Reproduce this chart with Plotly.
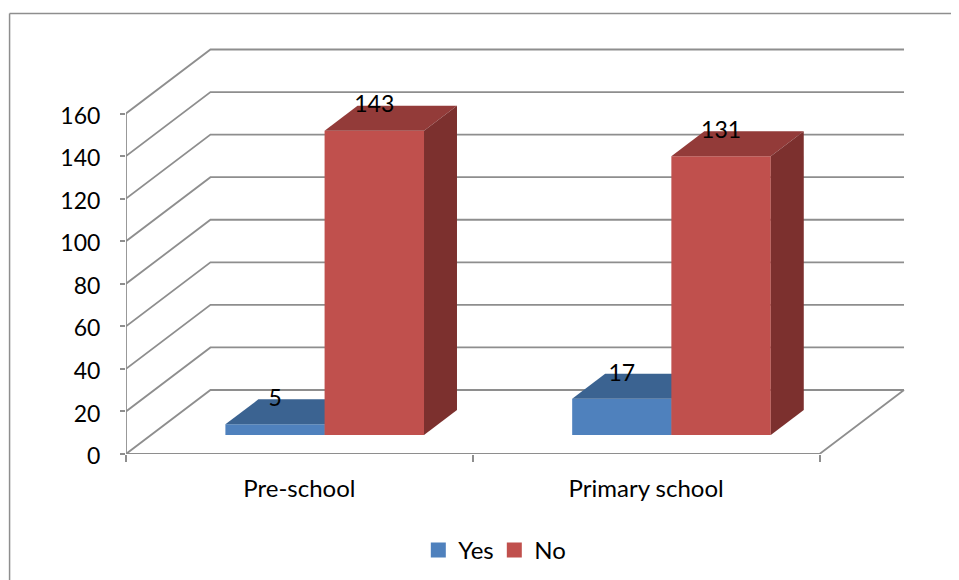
import plotly.graph_objects as go

categories = ["Pre-school", "Primary school"]
yes_values = [5, 17]
no_values = [143, 131]
y_ticks = [0, 20, 40, 60, 80, 100, 120, 140, 160]

W, H = 959, 580
OFF = 8  # the page body shifts the figure by this many pixels
L, R, T, B = 125.5 - OFF, 912.0 - OFF, 30.0 - OFF, 454.0 - OFF
PX_CAT = (819.5 - 125.5) / 2
PX_VAL = (454.0 - 113.5) / 160
XMAX = (R - L) / PX_CAT
YMAX = (B - T) / PX_VAL
DX = 84.5 / PX_CAT      # depth of the floor
DY = 64.0 / PX_VAL
BDX = 33.0 / PX_CAT     # depth of a bar
BDY = 25.0 / PX_VAL
BASE = 19.0 / PX_VAL    # bars stand on the middle of the floor
BW = 99.5 / PX_CAT
X_YES = [0.43, 1.43]
X_NO = [0.716, 1.716]

GRID = "#8e8e8e"
FONT = "Lato, Carlito, Calibri, sans-serif"
fig = go.Figure()


def line(xs, ys, width=1.8):
    fig.add_trace(go.Scatter(x=xs, y=ys, mode="lines", xaxis="x", yaxis="y", showlegend=False,
                             hoverinfo="skip", line=dict(color=GRID, width=width)))


for v in y_ticks:
    line([0, DX, 2 + DX], [v, v + DY, v + DY])
line([0, 0], [0, 160])
line([0, 2, 2 + DX], [0, 0, DY])


def add_series(name, xs, vals, front, top, side, ax):
    xa, ya = "x" + ax, "y" + ax
    fig.add_trace(go.Bar(x=xs, y=vals, base=[BASE] * len(xs), width=BW, name=name, xaxis=xa, yaxis=ya,
                         marker=dict(color=front, line_width=0), showlegend=False, hoverinfo="skip"))
    for x, v in zip(xs, vals):
        x0, x1, yt, yb = x - BW / 2, x + BW / 2, BASE + v, BASE
        fig.add_trace(go.Scatter(x=[x0, x1, x1 + BDX, x0 + BDX, x0], y=[yt, yt, yt + BDY, yt + BDY, yt],
                                 fill="toself", fillcolor=top, mode="none", xaxis=xa, yaxis=ya,
                                 showlegend=False, hoverinfo="skip"))
        fig.add_trace(go.Scatter(x=[x1, x1 + BDX, x1 + BDX, x1, x1], y=[yb, yb + BDY, yt + BDY, yt, yb],
                                 fill="toself", fillcolor=side, mode="none", xaxis=xa, yaxis=ya,
                                 showlegend=False, hoverinfo="skip"))
    fig.add_trace(go.Scatter(x=xs, y=[BASE + v + 24 / PX_VAL for v in vals], mode="text",
                             text=[str(v) for v in vals], textposition="middle center",
                             textfont=dict(family=FONT, size=23, color="#000000"),
                             xaxis=xa, yaxis=ya, showlegend=False, hoverinfo="skip"))
    fig.add_trace(go.Scatter(x=[None], y=[None], mode="markers", name=name, xaxis=xa, yaxis=ya,
                             marker=dict(symbol="square", size=15, color=front)))


add_series("Yes", X_YES, yes_values, "#4F81BD", "#3B6391", "#2F4F77", "2")
add_series("No", X_NO, no_values, "#C0504D", "#933B39", "#7C302E", "3")

font = dict(family=FONT, size=24, color="#000000")
common_x = dict(range=[0, XMAX], domain=[0, 1], showgrid=False, zeroline=False, showline=False)
common_y = dict(range=[0, YMAX], domain=[0, 1], showgrid=False, zeroline=False, showline=False)
px = lambda p: (p - OFF - L) / (R - L)
py = lambda p: (B - (p - OFF)) / (B - T)
fig.update_layout(
    width=W, height=H, margin=dict(l=L, r=W - R, t=T, b=H - B, autoexpand=False),
    paper_bgcolor="white", plot_bgcolor="rgba(0,0,0,0)", barmode="overlay", font=font,
    xaxis=dict(**common_x, tickmode="array", tickvals=[0, 1, 2], ticktext=["", "", ""],
               ticks="outside", ticklen=7, tickwidth=1.8, tickcolor=GRID),
    yaxis=dict(**common_y, tickmode="array", tickvals=y_ticks, ticks="outside", ticklen=5,
               tickwidth=1.8, tickcolor=GRID, tickfont=dict(family=FONT, size=23, color="#000000"),
               ticklabelstandoff=15, ticklabelshift=2),
    xaxis2=dict(**common_x, overlaying="x", anchor="y2", side="bottom", tickmode="array",
                tickvals=[0.5, 1.5], ticktext=categories, ticks="", tickfont=font,
                ticklabelstandoff=18),
    yaxis2=dict(**common_y, overlaying="y", anchor="x2", showticklabels=False),
    xaxis3=dict(**common_x, overlaying="x", anchor="y3", showticklabels=False),
    yaxis3=dict(**common_y, overlaying="y", anchor="x3", showticklabels=False),
    legend=dict(orientation="h", xref="paper", yref="paper", x=px(418), y=py(528),
                xanchor="left", yanchor="top", font=font, bgcolor="rgba(0,0,0,0)", itemwidth=30,
                entrywidth=31, entrywidthmode="pixels"),
    shapes=[dict(type="line", xref="paper", yref="paper", x0=px(9), x1=px(990), y0=py(13.5), y1=py(13.5),
                 line=dict(color=GRID, width=1.5), layer="below"),
            dict(type="line", xref="paper", yref="paper", x0=px(9), x1=px(9), y0=py(13.5), y1=py(600),
                 line=dict(color=GRID, width=1.5), layer="below")],
)
fig.write_html("out.html")
